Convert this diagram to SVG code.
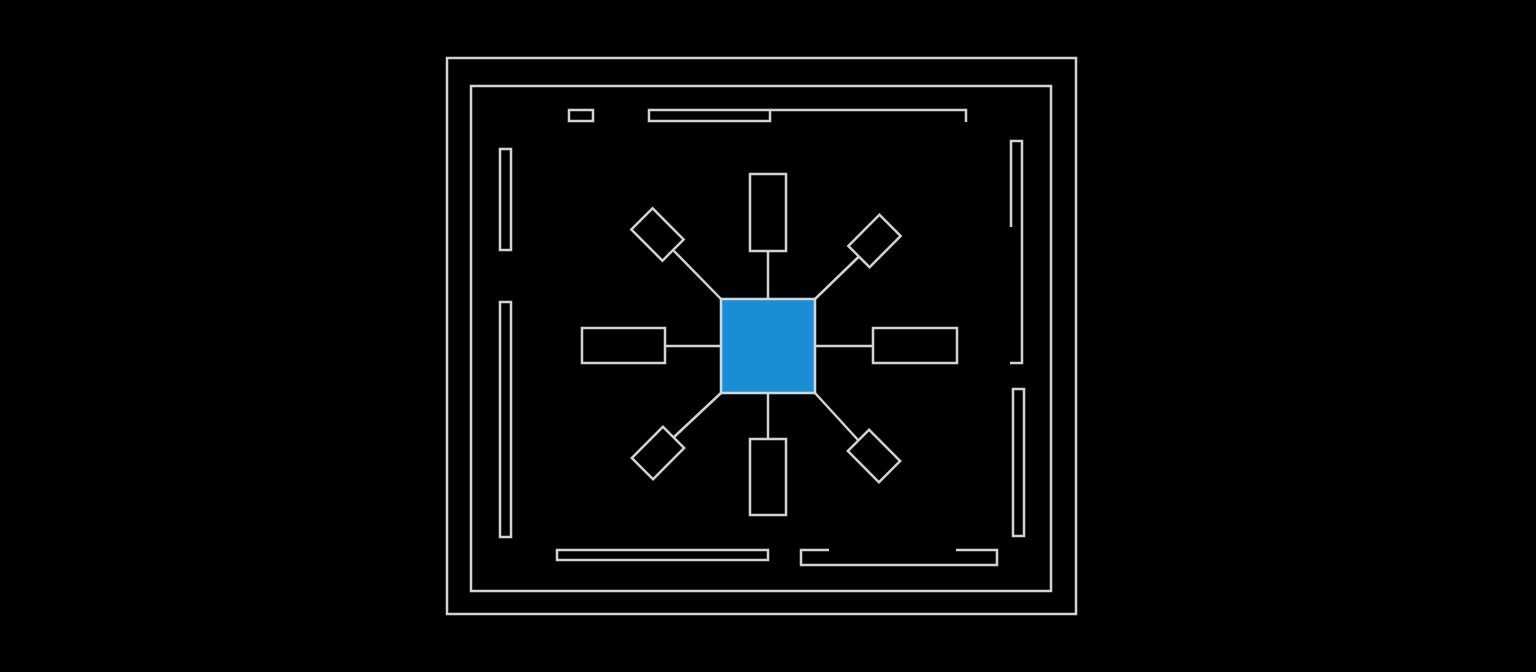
<svg xmlns="http://www.w3.org/2000/svg" width="1536" height="672" viewBox="0 0 1536 672">
<style>
.s{fill:none;stroke:#d2d2d2;stroke-width:2.5}
.c{fill:none;stroke:#d2d2d2;stroke-width:2.5}
.hub{fill:#1a8dd5;stroke:#cfd8de;stroke-width:2.5}
</style>
<rect width="1536" height="672" fill="#000"/>
<g id="frame">
<rect class="s" x="447" y="58" width="629" height="556"/>
<rect class="s" x="471" y="86" width="580" height="505"/>
</g>
<g id="walls">
<rect class="s" x="569" y="110" width="24" height="11"/>
<rect class="s" x="649" y="110" width="121" height="11"/>
<polyline class="s" points="770,110 966,110 966,122"/>
<rect class="s" x="500" y="149" width="11" height="101"/>
<rect class="s" x="500" y="302" width="11" height="235"/>
<polyline class="s" points="1011,227 1011,141 1022,141 1022,363 1010,363"/>
<rect class="s" x="1013" y="389" width="11" height="147"/>
<rect class="s" x="557" y="550" width="211" height="10"/>
<polyline class="s" points="829,550 801,550 801,565 997,565 997,550 956,550"/>
</g>
<g id="connectors">
<line class="c" x1="768" y1="251" x2="768" y2="299"/>
<line class="c" x1="768" y1="393" x2="768" y2="439"/>
<line class="c" x1="665" y1="346" x2="721" y2="346"/>
<line class="c" x1="815" y1="346" x2="873" y2="346"/>
<line class="c" x1="673" y1="250" x2="721" y2="299"/>
<line class="c" x1="859" y1="256.5" x2="815" y2="299"/>
<line class="c" x1="673.5" y1="437.5" x2="721" y2="393"/>
<line class="c" x1="858.5" y1="440.5" x2="815" y2="393"/>
</g>
<g id="hub"><rect class="hub" x="721" y="299" width="94" height="94"/></g>
<g id="n-top"><rect class="s" x="750" y="174" width="36" height="77"/></g>
<g id="n-bottom"><rect class="s" x="750" y="439" width="36" height="76"/></g>
<g id="n-left"><rect class="s" x="582" y="328" width="83" height="35"/></g>
<g id="n-right"><rect class="s" x="873" y="328" width="84" height="35"/></g>
<g id="n-tl"><rect class="s" x="-22" y="-15" width="44" height="30" transform="translate(657.5,234.5) rotate(45)"/></g>
<g id="n-tr"><rect class="s" x="-22" y="-15" width="44" height="30" transform="translate(874.5,241) rotate(-45)"/></g>
<g id="n-bl"><rect class="s" x="-22" y="-15" width="44" height="30" transform="translate(658,453) rotate(-45)"/></g>
<g id="n-br"><rect class="s" x="-22" y="-15" width="44" height="30" transform="translate(874,456) rotate(45)"/></g>
</svg>
